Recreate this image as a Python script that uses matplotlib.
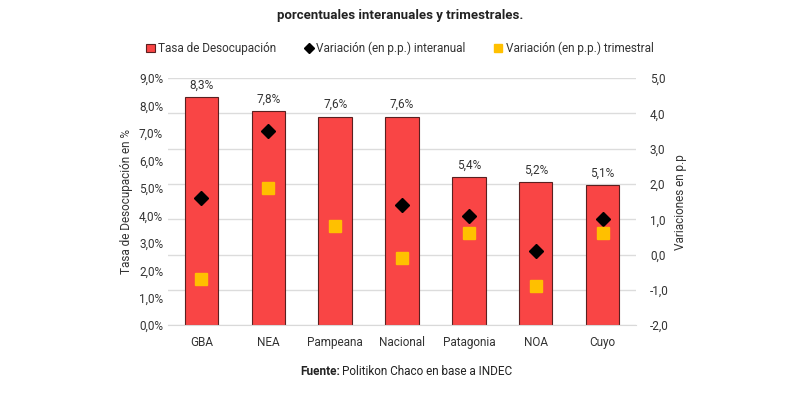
import numpy as np
import matplotlib.pyplot as plt

# datos
regiones = ['GBA', 'NEA', 'Pampeana', 'Nacional', 'Patagonia', 'NOA', 'Cuyo']
tasa = [8.3, 7.8, 7.6, 7.6, 5.4, 5.2, 5.1]
var_interanual = [1.6, 3.5, np.nan, 1.4, 1.1, 0.1, 1.0]
var_trimestral = [-0.7, 1.9, 0.8, -0.1, 0.6, -0.9, 0.6]
ticks_izq = np.arange(0, 10, 1)
ticks_der = np.arange(-2, 6, 1)

plt.rcParams['font.family'] = ['Roboto', 'DejaVu Sans']

fig = plt.figure(figsize=(8, 3.97), dpi=100)
ax = fig.add_axes([0.21, 0.181, 0.585, 0.622])
ax2 = ax.twinx()

x = np.arange(len(regiones))
ax.bar(x, tasa, width=0.5, color='#F94545', edgecolor='#5a2020',
       linewidth=0.8, label='Tasa de Desocupación', zorder=2)
for xi, v in zip(x, tasa):
    ax.text(xi, v + 0.2, f'{v:.1f}%'.replace('.', ','), ha='center',
            va='bottom', fontsize=8.5, color='#333333')

ax.set_ylim(0, 9)
ax.set_yticks(ticks_izq)
ax.set_yticklabels([f'{t:.1f}%'.replace('.', ',') for t in ticks_izq])
ax.set_xlim(-0.5, len(regiones) - 0.5)
ax.set_xticks(x)
ax.set_xticklabels(regiones)
ax.set_ylabel('Tasa de Desocupación en %', fontsize=8.5, color='#333333')

ax2.plot(x, var_interanual, linestyle='none', marker='D', markersize=7.5,
         color='black', label='Variación (en p.p.) interanual', zorder=3)
ax2.plot(x, var_trimestral, linestyle='none', marker='s', markersize=8,
         color='#FFC000', label='Variación (en p.p.) trimestral', zorder=3)
ax2.set_ylim(-2, 5)
ax2.set_yticks(ticks_der)
ax2.set_yticklabels([f'{t:.1f}'.replace('.', ',') for t in ticks_der])
ax2.set_ylabel('Variaciones en p.p', fontsize=8.5, color='#333333')
ax.set_zorder(ax2.get_zorder() - 1)
ax.patch.set_visible(False)
ax2.set_zorder(1)

for a in (ax, ax2):
    for s in a.spines.values():
        s.set_visible(False)
    a.tick_params(length=0, labelsize=8.5, colors='#333333')
ax.spines['bottom'].set_visible(True)
ax.spines['bottom'].set_color('#d9d9d9')
ax.tick_params(axis='x', pad=8)
ax2.tick_params(axis='y', pad=10)

# lineas de grilla segun el eje derecho, detras de las barras
for t in ticks_der:
    yy = (t - (-2)) / 7 * 9
    ax.axhline(yy, color='#dcdcdc', linewidth=1, zorder=0)

h1, l1 = ax.get_legend_handles_labels()
h2, l2 = ax2.get_legend_handles_labels()
fig.legend(h1 + h2, l1 + l2, loc='center', bbox_to_anchor=(0.5, 0.878),
           ncol=3, frameon=False, fontsize=8.5, handlelength=0.7,
           handleheight=0.7, markerscale=0.65, columnspacing=2.4,
           handletextpad=0.3, labelcolor='#333333')

fig.text(0.5, 0.962, 'porcentuales interanuales y trimestrales.', ha='center',
         va='center', fontsize=9.5, fontweight='bold', color='#222222')
fig.text(0.375, 0.065, 'Fuente:', ha='left', va='center', fontsize=8.5,
         fontweight='bold', color='#222222')
fig.text(0.428, 0.065, 'Politikon Chaco en base a INDEC', ha='left',
         va='center', fontsize=8.5, color='#222222')

fig.savefig('out.png', dpi=100)
